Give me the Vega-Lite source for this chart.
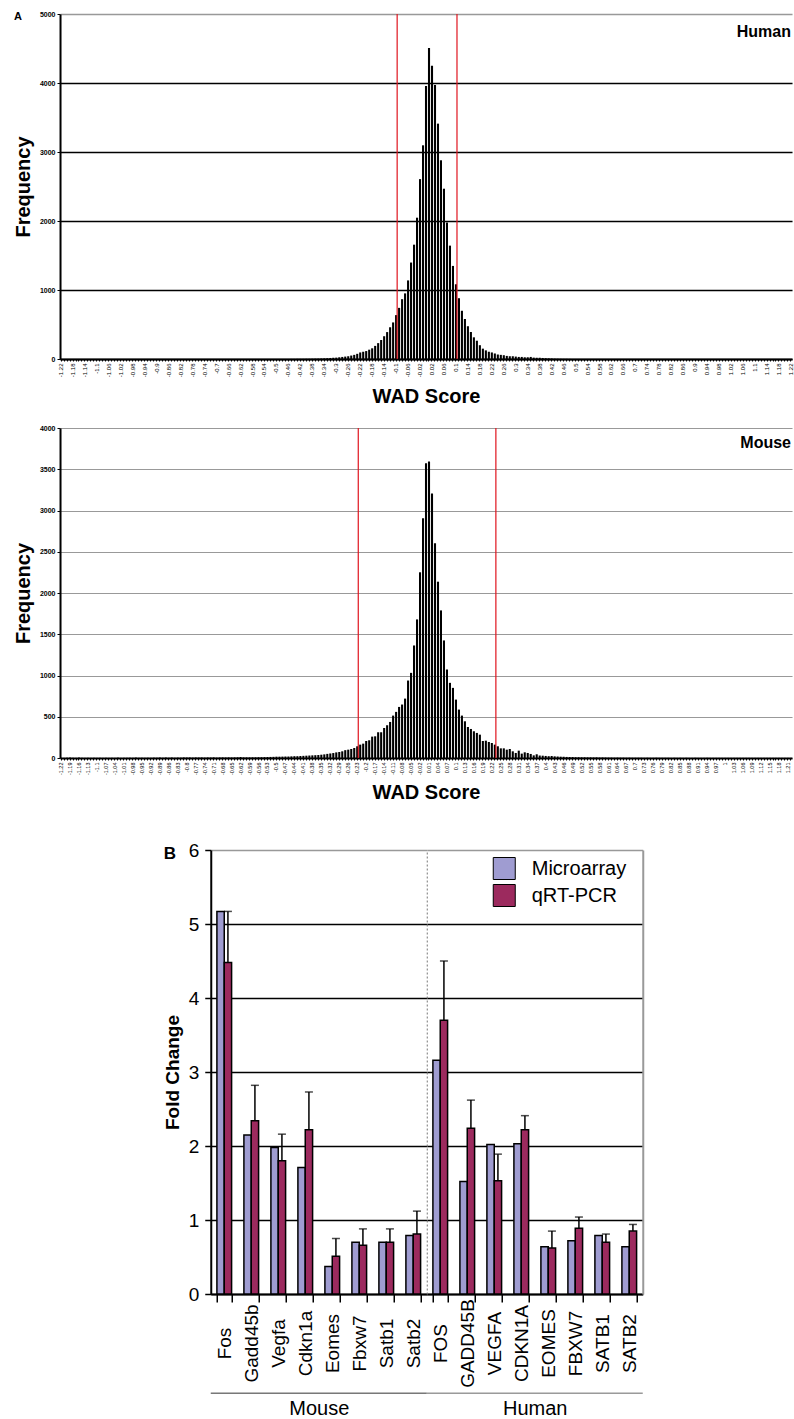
{
"$schema": "https://vega.github.io/schema/vega-lite/v6.json",
"background": "white",
"padding": {"left": 13, "top": 10, "right": 0, "bottom": 0},
"config": {"font": "Liberation Sans", "view": {"stroke": null}, "axis": {"labelFont": "Liberation Sans", "titleFont": "Liberation Sans", "labelColor": "black", "titleColor": "black"}},
"datasets": {
"human": [
{"w":-1.22,"n":0},{"w":-1.21,"n":0},{"w":-1.2,"n":0},{"w":-1.19,"n":0},{"w":-1.18,"n":0},{"w":-1.17,"n":0},{"w":-1.16,"n":0},{"w":-1.15,"n":0},{"w":-1.14,"n":0},{"w":-1.13,"n":0},{"w":-1.12,"n":0},{"w":-1.11,"n":0},{"w":-1.1,"n":0},{"w":-1.09,"n":0},{"w":-1.08,"n":0},{"w":-1.07,"n":0},{"w":-1.06,"n":0},{"w":-1.05,"n":0},{"w":-1.04,"n":0},{"w":-1.03,"n":0},{"w":-1.02,"n":0},{"w":-1.01,"n":0},{"w":-1,"n":0},{"w":-0.99,"n":0},{"w":-0.98,"n":0},{"w":-0.97,"n":0},{"w":-0.96,"n":0},{"w":-0.95,"n":0},{"w":-0.94,"n":0},{"w":-0.93,"n":0},{"w":-0.92,"n":0},{"w":-0.91,"n":0},{"w":-0.9,"n":0},{"w":-0.89,"n":0},{"w":-0.88,"n":0},{"w":-0.87,"n":0},{"w":-0.86,"n":0},{"w":-0.85,"n":0},{"w":-0.84,"n":0},{"w":-0.83,"n":0},{"w":-0.82,"n":0},{"w":-0.81,"n":0},{"w":-0.8,"n":0},{"w":-0.79,"n":0},{"w":-0.78,"n":0},{"w":-0.77,"n":0},{"w":-0.76,"n":0},{"w":-0.75,"n":0},{"w":-0.74,"n":0},{"w":-0.73,"n":0},{"w":-0.72,"n":0},{"w":-0.71,"n":0},{"w":-0.7,"n":0},{"w":-0.69,"n":0},{"w":-0.68,"n":0},{"w":-0.67,"n":0},{"w":-0.66,"n":0},{"w":-0.65,"n":0},{"w":-0.64,"n":0},{"w":-0.63,"n":0},{"w":-0.62,"n":0},{"w":-0.61,"n":0},{"w":-0.6,"n":0},{"w":-0.59,"n":0},{"w":-0.58,"n":0},{"w":-0.57,"n":0},{"w":-0.56,"n":0},{"w":-0.55,"n":0},{"w":-0.54,"n":0},{"w":-0.53,"n":0},{"w":-0.52,"n":0},{"w":-0.51,"n":0},{"w":-0.5,"n":0},{"w":-0.49,"n":0},{"w":-0.48,"n":0},{"w":-0.47,"n":0},{"w":-0.46,"n":0},
{"w":-0.45,"n":1},{"w":-0.44,"n":1},{"w":-0.43,"n":2},{"w":-0.42,"n":2},{"w":-0.41,"n":2},{"w":-0.4,"n":3},{"w":-0.39,"n":3},{"w":-0.38,"n":4},{"w":-0.37,"n":5},{"w":-0.36,"n":6},{"w":-0.35,"n":8},{"w":-0.34,"n":10},{"w":-0.33,"n":12},{"w":-0.32,"n":15},{"w":-0.31,"n":18},{"w":-0.3,"n":20},{"w":-0.29,"n":25},{"w":-0.28,"n":30},{"w":-0.27,"n":35},{"w":-0.26,"n":40},{"w":-0.25,"n":50},{"w":-0.24,"n":60},{"w":-0.23,"n":75},{"w":-0.22,"n":95},{"w":-0.21,"n":105},{"w":-0.2,"n":115},{"w":-0.19,"n":135},{"w":-0.18,"n":155},{"w":-0.17,"n":190},{"w":-0.16,"n":230},{"w":-0.15,"n":275},{"w":-0.14,"n":330},{"w":-0.13,"n":390},{"w":-0.12,"n":460},{"w":-0.11,"n":530},{"w":-0.1,"n":636},{"w":-0.09,"n":741},{"w":-0.08,"n":867},{"w":-0.07,"n":951},{"w":-0.06,"n":1139},{"w":-0.05,"n":1398},{"w":-0.04,"n":1657},{"w":-0.03,"n":2048},{"w":-0.02,"n":2607},{"w":-0.01,"n":3097},{"w":0,"n":3957},{"w":0.01,"n":4509},{"w":0.02,"n":4250},{"w":0.03,"n":3970},{"w":0.04,"n":3411},{"w":0.05,"n":2880},{"w":0.06,"n":2468},{"w":0.07,"n":1978},{"w":0.08,"n":1643},{"w":0.09,"n":1349},{"w":0.1,"n":1083},{"w":0.11,"n":881},{"w":0.12,"n":699},{"w":0.13,"n":580},{"w":0.14,"n":475},{"w":0.15,"n":391},{"w":0.16,"n":314},{"w":0.17,"n":265},{"w":0.18,"n":200},{"w":0.19,"n":150},{"w":0.2,"n":125},{"w":0.21,"n":105},{"w":0.22,"n":95},{"w":0.23,"n":80},{"w":0.24,"n":65},{"w":0.25,"n":60},{"w":0.26,"n":55},{"w":0.27,"n":45},{"w":0.28,"n":40},{"w":0.29,"n":40},{"w":0.3,"n":35},{"w":0.31,"n":30},{"w":0.32,"n":30},{"w":0.33,"n":25},{"w":0.34,"n":25},{"w":0.35,"n":30},{"w":0.36,"n":20},{"w":0.37,"n":18},{"w":0.38,"n":18},{"w":0.39,"n":15},{"w":0.4,"n":12},{"w":0.41,"n":10},{"w":0.42,"n":8},{"w":0.43,"n":5},{"w":0.44,"n":4},{"w":0.45,"n":3},{"w":0.46,"n":2},{"w":0.47,"n":2},{"w":0.48,"n":1},{"w":0.49,"n":1},
{"w":0.5,"n":0},{"w":0.51,"n":0},{"w":0.52,"n":0},{"w":0.53,"n":0},{"w":0.54,"n":0},{"w":0.55,"n":0},{"w":0.56,"n":0},{"w":0.57,"n":0},{"w":0.58,"n":0},{"w":0.59,"n":0},{"w":0.6,"n":0},{"w":0.61,"n":0},{"w":0.62,"n":0},{"w":0.63,"n":0},{"w":0.64,"n":0},{"w":0.65,"n":0},{"w":0.66,"n":0},{"w":0.67,"n":0},{"w":0.68,"n":0},{"w":0.69,"n":0},{"w":0.7,"n":0},{"w":0.71,"n":0},{"w":0.72,"n":0},{"w":0.73,"n":0},{"w":0.74,"n":0},{"w":0.75,"n":0},{"w":0.76,"n":0},{"w":0.77,"n":0},{"w":0.78,"n":0},{"w":0.79,"n":0},{"w":0.8,"n":0},{"w":0.81,"n":0},{"w":0.82,"n":0},{"w":0.83,"n":0},{"w":0.84,"n":0},{"w":0.85,"n":0},{"w":0.86,"n":0},{"w":0.87,"n":0},{"w":0.88,"n":0},{"w":0.89,"n":0},{"w":0.9,"n":0},{"w":0.91,"n":0},{"w":0.92,"n":0},{"w":0.93,"n":0},{"w":0.94,"n":0},{"w":0.95,"n":0},{"w":0.96,"n":0},{"w":0.97,"n":0},{"w":0.98,"n":0},{"w":0.99,"n":0},{"w":1,"n":0},{"w":1.01,"n":0},{"w":1.02,"n":0},{"w":1.03,"n":0},{"w":1.04,"n":0},{"w":1.05,"n":0},{"w":1.06,"n":0},{"w":1.07,"n":0},{"w":1.08,"n":0},{"w":1.09,"n":0},{"w":1.1,"n":0},{"w":1.11,"n":0},{"w":1.12,"n":0},{"w":1.13,"n":0},{"w":1.14,"n":0},{"w":1.15,"n":0},{"w":1.16,"n":0},{"w":1.17,"n":0},{"w":1.18,"n":0},{"w":1.19,"n":0},{"w":1.2,"n":0},{"w":1.21,"n":0},{"w":1.22,"n":0}
],
"mouse": [
{"w":-1.22,"n":2},{"w":-1.21,"n":1},{"w":-1.2,"n":3},{"w":-1.19,"n":5},{"w":-1.18,"n":2},{"w":-1.17,"n":1},{"w":-1.16,"n":5},{"w":-1.15,"n":2},{"w":-1.14,"n":1},{"w":-1.13,"n":2},{"w":-1.12,"n":1},{"w":-1.11,"n":2},{"w":-1.1,"n":1},{"w":-1.09,"n":2},{"w":-1.08,"n":1},{"w":-1.07,"n":2},{"w":-1.06,"n":1},{"w":-1.05,"n":2},{"w":-1.04,"n":1},{"w":-1.03,"n":4},{"w":-1.02,"n":1},{"w":-1.01,"n":2},{"w":-1,"n":2},{"w":-0.99,"n":3},{"w":-0.98,"n":2},{"w":-0.97,"n":5},{"w":-0.96,"n":2},{"w":-0.95,"n":3},{"w":-0.94,"n":2},{"w":-0.93,"n":3},{"w":-0.92,"n":2},{"w":-0.91,"n":4},{"w":-0.9,"n":3},{"w":-0.89,"n":6},{"w":-0.88,"n":3},{"w":-0.87,"n":6},{"w":-0.86,"n":3},{"w":-0.85,"n":6},{"w":-0.84,"n":3},{"w":-0.83,"n":5},{"w":-0.82,"n":4},{"w":-0.81,"n":7},{"w":-0.8,"n":6},{"w":-0.79,"n":7},{"w":-0.78,"n":5},{"w":-0.77,"n":7},{"w":-0.76,"n":6},{"w":-0.75,"n":7},{"w":-0.74,"n":5},{"w":-0.73,"n":7},{"w":-0.72,"n":6},{"w":-0.71,"n":8},{"w":-0.7,"n":5},{"w":-0.69,"n":7},{"w":-0.68,"n":8},{"w":-0.67,"n":7},{"w":-0.66,"n":8},{"w":-0.65,"n":7},{"w":-0.64,"n":8},{"w":-0.63,"n":9},{"w":-0.62,"n":12},{"w":-0.61,"n":8},{"w":-0.6,"n":8},{"w":-0.59,"n":8},{"w":-0.58,"n":9},{"w":-0.57,"n":9},{"w":-0.56,"n":10},{"w":-0.55,"n":10},{"w":-0.54,"n":11},{"w":-0.53,"n":12},{"w":-0.52,"n":13},{"w":-0.51,"n":14},{"w":-0.5,"n":16},{"w":-0.49,"n":16},{"w":-0.48,"n":17},{"w":-0.47,"n":18},{"w":-0.46,"n":18},{"w":-0.45,"n":20},{"w":-0.44,"n":22},{"w":-0.43,"n":22},{"w":-0.42,"n":24},{"w":-0.41,"n":26},{"w":-0.4,"n":28},{"w":-0.39,"n":30},{"w":-0.38,"n":32},{"w":-0.37,"n":34},{"w":-0.36,"n":36},{"w":-0.35,"n":40},{"w":-0.34,"n":44},{"w":-0.33,"n":50},{"w":-0.32,"n":55},{"w":-0.31,"n":60},{"w":-0.3,"n":68},{"w":-0.29,"n":73},{"w":-0.28,"n":81},{"w":-0.27,"n":95},{"w":-0.26,"n":101},{"w":-0.25,"n":109},{"w":-0.24,"n":121},{"w":-0.23,"n":142},{"w":-0.22,"n":162},{"w":-0.21,"n":174},{"w":-0.2,"n":206},{"w":-0.19,"n":215},{"w":-0.18,"n":259},{"w":-0.17,"n":263},{"w":-0.16,"n":312},{"w":-0.15,"n":312},{"w":-0.14,"n":364},{"w":-0.13,"n":397},{"w":-0.12,"n":437},{"w":-0.11,"n":514},{"w":-0.1,"n":559},{"w":-0.09,"n":619},{"w":-0.08,"n":648},{"w":-0.07,"n":720},{"w":-0.06,"n":939},{"w":-0.05,"n":1032},{"w":-0.04,"n":1364},{"w":-0.03,"n":1680},{"w":-0.02,"n":2251},{"w":-0.01,"n":2906},{"w":0,"n":3574},{"w":0.01,"n":3595},{"w":0.02,"n":3206},{"w":0.03,"n":2603},{"w":0.04,"n":2137},{"w":0.05,"n":1789},{"w":0.06,"n":1425},{"w":0.07,"n":1073},{"w":0.08,"n":911},{"w":0.09,"n":850},{"w":0.1,"n":708},{"w":0.11,"n":587},{"w":0.12,"n":514},{"w":0.13,"n":445},{"w":0.14,"n":376},{"w":0.15,"n":352},{"w":0.16,"n":324},{"w":0.17,"n":304},{"w":0.18,"n":283},{"w":0.19,"n":206},{"w":0.2,"n":210},{"w":0.21,"n":194},{"w":0.22,"n":182},{"w":0.23,"n":162},{"w":0.24,"n":142},{"w":0.25,"n":117},{"w":0.26,"n":117},{"w":0.27,"n":101},{"w":0.28,"n":109},{"w":0.29,"n":81},{"w":0.3,"n":61},{"w":0.31,"n":89},{"w":0.32,"n":53},{"w":0.33,"n":69},{"w":0.34,"n":61},{"w":0.35,"n":49},{"w":0.36,"n":32},{"w":0.37,"n":45},{"w":0.38,"n":30},{"w":0.39,"n":28},{"w":0.4,"n":25},{"w":0.41,"n":22},{"w":0.42,"n":24},{"w":0.43,"n":20},{"w":0.44,"n":18},{"w":0.45,"n":16},{"w":0.46,"n":15},{"w":0.47,"n":13},{"w":0.48,"n":12},{"w":0.49,"n":11},{"w":0.5,"n":10},{"w":0.51,"n":10},{"w":0.52,"n":9},{"w":0.53,"n":9},{"w":0.54,"n":8},{"w":0.55,"n":8},{"w":0.56,"n":7},{"w":0.57,"n":8},{"w":0.58,"n":6},{"w":0.59,"n":7},{"w":0.6,"n":6},{"w":0.61,"n":5},{"w":0.62,"n":5},{"w":0.63,"n":4},{"w":0.64,"n":5},{"w":0.65,"n":4},{"w":0.66,"n":4},{"w":0.67,"n":3},{"w":0.68,"n":4},{"w":0.69,"n":3},{"w":0.7,"n":3},{"w":0.71,"n":3},{"w":0.72,"n":3},{"w":0.73,"n":2},{"w":0.74,"n":3},{"w":0.75,"n":2},{"w":0.76,"n":2},{"w":0.77,"n":3},{"w":0.78,"n":2},{"w":0.79,"n":2},{"w":0.8,"n":2},{"w":0.81,"n":2},{"w":0.82,"n":1},{"w":0.83,"n":2},{"w":0.84,"n":1},{"w":0.85,"n":2},{"w":0.86,"n":1},{"w":0.87,"n":2},{"w":0.88,"n":1},{"w":0.89,"n":1},{"w":0.9,"n":2},{"w":0.91,"n":1},{"w":0.92,"n":1},{"w":0.93,"n":1},{"w":0.94,"n":2},{"w":0.95,"n":1},{"w":0.96,"n":1},{"w":0.97,"n":1},{"w":0.98,"n":1},{"w":0.99,"n":1},{"w":1,"n":1},{"w":1.01,"n":1},{"w":1.02,"n":1},{"w":1.03,"n":1},{"w":1.04,"n":1},{"w":1.05,"n":1},{"w":1.06,"n":1},{"w":1.07,"n":1},{"w":1.08,"n":1},{"w":1.09,"n":1},{"w":1.1,"n":1},{"w":1.11,"n":1},{"w":1.12,"n":1},{"w":1.13,"n":1},{"w":1.14,"n":1},{"w":1.15,"n":1},{"w":1.16,"n":1},{"w":1.17,"n":1},{"w":1.18,"n":1},{"w":1.19,"n":1},{"w":1.2,"n":1},{"w":1.21,"n":1},{"w":1.22,"n":1}
],
"genes": [
{"species":"Mouse","gene":"Fos","series":"Microarray","value":5.17},{"species":"Mouse","gene":"Fos","series":"qRT-PCR","value":4.48,"err":5.17},
{"species":"Mouse","gene":"Gadd45b","series":"Microarray","value":2.15},{"species":"Mouse","gene":"Gadd45b","series":"qRT-PCR","value":2.34,"err":2.82},
{"species":"Mouse","gene":"Vegfa","series":"Microarray","value":1.98},{"species":"Mouse","gene":"Vegfa","series":"qRT-PCR","value":1.8,"err":2.16},
{"species":"Mouse","gene":"Cdkn1a","series":"Microarray","value":1.71},{"species":"Mouse","gene":"Cdkn1a","series":"qRT-PCR","value":2.22,"err":2.73},
{"species":"Mouse","gene":"Eomes","series":"Microarray","value":0.37},{"species":"Mouse","gene":"Eomes","series":"qRT-PCR","value":0.51,"err":0.75},
{"species":"Mouse","gene":"Fbxw7","series":"Microarray","value":0.7},{"species":"Mouse","gene":"Fbxw7","series":"qRT-PCR","value":0.66,"err":0.88},
{"species":"Mouse","gene":"Satb1","series":"Microarray","value":0.7},{"species":"Mouse","gene":"Satb1","series":"qRT-PCR","value":0.7,"err":0.88},
{"species":"Mouse","gene":"Satb2","series":"Microarray","value":0.79},{"species":"Mouse","gene":"Satb2","series":"qRT-PCR","value":0.81,"err":1.12},
{"species":"Human","gene":"FOS","series":"Microarray","value":3.16},{"species":"Human","gene":"FOS","series":"qRT-PCR","value":3.7,"err":4.5},
{"species":"Human","gene":"GADD45B","series":"Microarray","value":1.52},{"species":"Human","gene":"GADD45B","series":"qRT-PCR","value":2.24,"err":2.62},
{"species":"Human","gene":"VEGFA","series":"Microarray","value":2.02},{"species":"Human","gene":"VEGFA","series":"qRT-PCR","value":1.53,"err":1.89},
{"species":"Human","gene":"CDKN1A","series":"Microarray","value":2.03},{"species":"Human","gene":"CDKN1A","series":"qRT-PCR","value":2.22,"err":2.41},
{"species":"Human","gene":"EOMES","series":"Microarray","value":0.64},{"species":"Human","gene":"EOMES","series":"qRT-PCR","value":0.62,"err":0.85},
{"species":"Human","gene":"FBXW7","series":"Microarray","value":0.72},{"species":"Human","gene":"FBXW7","series":"qRT-PCR","value":0.89,"err":1.04},
{"species":"Human","gene":"SATB1","series":"Microarray","value":0.79},{"species":"Human","gene":"SATB1","series":"qRT-PCR","value":0.7,"err":0.81},
{"species":"Human","gene":"SATB2","series":"Microarray","value":0.64},{"species":"Human","gene":"SATB2","series":"qRT-PCR","value":0.85,"err":0.94}
]
},
"spacing": 38,
"center": true,
"vconcat": [
{
"spacing": 17,
"vconcat": [
{
"width": 732, "height": 345,
"title": {"text": "A", "anchor": "start", "frame": "group", "dx": -46, "dy": 12, "offset": 0, "fontSize": 11, "fontWeight": "bold"},
"data": {"name": "human"},
"layer": [
{"mark": {"type": "bar", "color": "black"},
"encoding": {
"x": {"field": "w", "type": "ordinal", "scale": {"paddingInner": 0.3, "paddingOuter": 0},
"axis": {"title": "WAD Score", "titleFontSize": 20, "titleFontWeight": "bold", "titlePadding": 10, "labelAngle": -90, "labelFontSize": 6, "labelPadding": 2, "tickSize": 2, "tickColor": "black", "domainColor": "black", "domainWidth": 2, "labelExpr": "(round(datum.value*100)+122) % 4 == 0 ? datum.label : ''"}},
"y": {"field": "n", "type": "quantitative", "scale": {"domain": [0, 5000]},
"axis": {"title": "Frequency", "format": "d", "values": [0,500,1000,1500,2000,2500,3000,3500,4000,4500,5000], "titleFontSize": 20, "titleFontWeight": "bold", "titlePadding": 6, "labelFontSize": 7, "labelFontWeight": "bold", "tickSize": 3, "tickColor": "black", "labelPadding": 2, "domainColor": "black", "domainWidth": 2, "grid": true, "gridColor": {"condition": {"test": "datum.value == 5000", "value": "#999999"}, "value": "black"}, "gridWidth": 1.4}}
}},
{"transform": [{"filter": "datum.w == -0.1 || datum.w == 0.1"}],
"mark": {"type": "rule", "color": "#e0141e", "strokeWidth": 1.2},
"encoding": {"x": {"field": "w", "type": "ordinal", "bandPosition": 1}}},
{"transform": [{"filter": "datum.w == 1.22"}],
"mark": {"type": "text", "align": "right", "baseline": "middle", "fontSize": 16, "fontWeight": "bold", "color": "black"},
"encoding": {"x": {"field": "w", "type": "ordinal"}, "y": {"datum": 4745}, "text": {"value": "Human"}}}
]
},
{
"width": 732, "height": 330,
"data": {"name": "mouse"},
"layer": [
{"mark": {"type": "bar", "color": "black"},
"encoding": {
"x": {"field": "w", "type": "ordinal", "scale": {"paddingInner": 0.3, "paddingOuter": 0},
"axis": {"title": "WAD Score", "titleFontSize": 20, "titleFontWeight": "bold", "titlePadding": 8, "labelAngle": -90, "labelFontSize": 5.5, "labelPadding": 2, "tickSize": 2, "tickColor": "black", "domainColor": "black", "domainWidth": 2, "labelExpr": "(round(datum.value*100)+122) % 3 == 0 ? datum.label : ''"}},
"y": {"field": "n", "type": "quantitative", "scale": {"domain": [0, 4000]},
"axis": {"title": "Frequency", "format": "d", "values": [0,500,1000,1500,2000,2500,3000,3500,4000], "titleFontSize": 20, "titleFontWeight": "bold", "titlePadding": 6, "labelFontSize": 7, "labelFontWeight": "bold", "tickSize": 3, "tickColor": "black", "labelPadding": 2, "domainColor": "black", "domainWidth": 2, "grid": true, "gridColor": "#999999", "gridWidth": 1}}
}},
{"transform": [{"filter": "datum.w == -0.23 || datum.w == 0.23"}],
"mark": {"type": "rule", "color": "#e0141e", "strokeWidth": 1.2},
"encoding": {"x": {"field": "w", "type": "ordinal", "bandPosition": 1}}},
{"transform": [{"filter": "datum.w == 1.22"}],
"mark": {"type": "text", "align": "right", "baseline": "middle", "fontSize": 16, "fontWeight": "bold", "color": "black"},
"encoding": {"x": {"field": "w", "type": "ordinal"}, "y": {"datum": 3822}, "text": {"value": "Mouse"}}}
]
}
]
},
{
"spacing": 0,
"bounds": "flush",
"resolve": {"scale": {"y": "shared", "color": "shared"}, "legend": {"color": "independent"}},
"hconcat": [
{
"width": 216, "height": 444,
"title": {"text": "B", "anchor": "start", "frame": "group", "dx": -47, "dy": 22, "offset": 0, "fontSize": 17, "fontWeight": "bold"},
"data": {"name": "genes"},
"transform": [{"filter": "datum.species == 'Mouse'"}],
"layer": [
{"mark": {"type": "bar", "stroke": "black", "strokeWidth": 1.5},
"encoding": {
"x": {"field": "gene", "type": "nominal", "sort": ["Fos","Gadd45b","Vegfa","Cdkn1a","Eomes","Fbxw7","Satb1","Satb2"], "scale": {"paddingInner": 0.456, "paddingOuter": 0.228},
"axis": {"title": "Mouse", "titleFontSize": 20, "titleFontWeight": "normal", "titleBaseline": "alphabetic", "titleY": 120, "labelAngle": -90, "labelAlign": "center", "labelBaseline": "middle", "labelFontSize": 19, "labelPadding": 41, "tickBand": "extent", "tickSize": 8, "tickWidth": 1.5, "tickColor": "black", "domainColor": "black", "domainWidth": 2}},
"xOffset": {"field": "series", "type": "nominal", "sort": ["Microarray", "qRT-PCR"]},
"y": {"field": "value", "type": "quantitative", "scale": {"domain": [0, 6]},
"axis": {"title": "Fold Change", "format": "d", "values": [0,1,2,3,4,5,6], "titleFontSize": 19, "titleFontWeight": "bold", "titlePadding": 6, "labelFontSize": 19, "tickSize": 6, "tickWidth": 1.5, "tickColor": "black", "labelPadding": 6, "domainColor": "black", "domainWidth": 2, "grid": true, "gridColor": {"condition": {"test": "datum.value == 6", "value": "#999999"}, "value": "black"}, "gridWidth": 1.5}},
"color": {"field": "series", "type": "nominal", "scale": {"domain": ["Microarray", "qRT-PCR"], "range": ["#9f9cd1", "#9c2a5e"]}, "legend": null}
}},
{"transform": [{"filter": "datum.series == 'qRT-PCR'"}],
"mark": {"type": "rule", "color": "black", "strokeWidth": 1.5},
"encoding": {
"x": {"field": "gene", "type": "nominal", "sort": ["Fos","Gadd45b","Vegfa","Cdkn1a","Eomes","Fbxw7","Satb1","Satb2"]},
"xOffset": {"field": "series", "type": "nominal", "sort": ["Microarray", "qRT-PCR"]},
"y": {"field": "value", "type": "quantitative"}, "y2": {"field": "err"}}},
{"transform": [{"filter": "datum.series == 'qRT-PCR'"}],
"mark": {"type": "tick", "color": "black", "thickness": 1.5, "size": 8, "orient": "horizontal"},
"encoding": {
"x": {"field": "gene", "type": "nominal", "sort": ["Fos","Gadd45b","Vegfa","Cdkn1a","Eomes","Fbxw7","Satb1","Satb2"]},
"xOffset": {"field": "series", "type": "nominal", "sort": ["Microarray", "qRT-PCR"]},
"y": {"field": "err", "type": "quantitative"}}},
{"data": {"values": [{"species": "Mouse"}]},
"mark": {"type": "rule", "color": "#333333", "strokeWidth": 1},
"encoding": {"y": {"datum": -1.34}}}
]
},
{
"width": 216, "height": 444,
"data": {"name": "genes"},
"transform": [{"filter": "datum.species == 'Human'"}],
"resolve": {"axis": {"y": "independent"}},
"layer": [
{"mark": {"type": "bar", "stroke": "black", "strokeWidth": 1.5},
"encoding": {
"x": {"field": "gene", "type": "nominal", "sort": ["FOS","GADD45B","VEGFA","CDKN1A","EOMES","FBXW7","SATB1","SATB2"], "scale": {"paddingInner": 0.456, "paddingOuter": 0.228},
"axis": {"title": "Human", "titleFontSize": 20, "titleFontWeight": "normal", "titleBaseline": "alphabetic", "titleY": 120, "labelAngle": -90, "labelAlign": "center", "labelBaseline": "middle", "labelFontSize": 19, "labelPadding": 41, "tickBand": "extent", "tickSize": 8, "tickWidth": 1.5, "tickColor": "black", "domainColor": "black", "domainWidth": 2}},
"xOffset": {"field": "series", "type": "nominal", "sort": ["Microarray", "qRT-PCR"]},
"y": {"field": "value", "type": "quantitative", "scale": {"domain": [0, 6]},
"axis": {"title": null, "values": [0,1,2,3,4,5,6], "labels": false, "ticks": false, "minExtent": 0, "domainColor": "#777777", "domainDash": [2, 2], "domainWidth": 1, "grid": true, "gridColor": {"condition": {"test": "datum.value == 6", "value": "#999999"}, "value": "black"}, "gridWidth": 1.5}},
"color": {"field": "series", "type": "nominal", "scale": {"domain": ["Microarray", "qRT-PCR"], "range": ["#9f9cd1", "#9c2a5e"]},
"legend": {"title": null, "orient": "none", "legendX": 62, "legendY": 3, "padding": 4, "labelFontSize": 20, "labelOffset": 16, "symbolType": "square", "symbolSize": 484, "symbolStrokeColor": "black", "symbolStrokeWidth": 1, "rowPadding": 0, "labelColor": "black"}}
}},
{"transform": [{"filter": "datum.series == 'qRT-PCR'"}],
"mark": {"type": "rule", "color": "black", "strokeWidth": 1.5},
"encoding": {
"x": {"field": "gene", "type": "nominal", "sort": ["FOS","GADD45B","VEGFA","CDKN1A","EOMES","FBXW7","SATB1","SATB2"]},
"xOffset": {"field": "series", "type": "nominal", "sort": ["Microarray", "qRT-PCR"]},
"y": {"field": "value", "type": "quantitative", "axis": null}, "y2": {"field": "err"}}},
{"transform": [{"filter": "datum.series == 'qRT-PCR'"}],
"mark": {"type": "tick", "color": "black", "thickness": 1.5, "size": 8, "orient": "horizontal"},
"encoding": {
"x": {"field": "gene", "type": "nominal", "sort": ["FOS","GADD45B","VEGFA","CDKN1A","EOMES","FBXW7","SATB1","SATB2"]},
"xOffset": {"field": "series", "type": "nominal", "sort": ["Microarray", "qRT-PCR"]},
"y": {"field": "err", "type": "quantitative", "axis": {"orient": "right", "title": null, "labels": false, "ticks": false, "grid": false, "minExtent": 0, "domainColor": "#999999", "domainWidth": 2}}}},
{"data": {"values": [{"species": "Human"}]},
"mark": {"type": "rule", "color": "#666666", "strokeWidth": 1},
"encoding": {"y": {"datum": -1.34, "axis": null}}}
]
}
]
}
]
}
